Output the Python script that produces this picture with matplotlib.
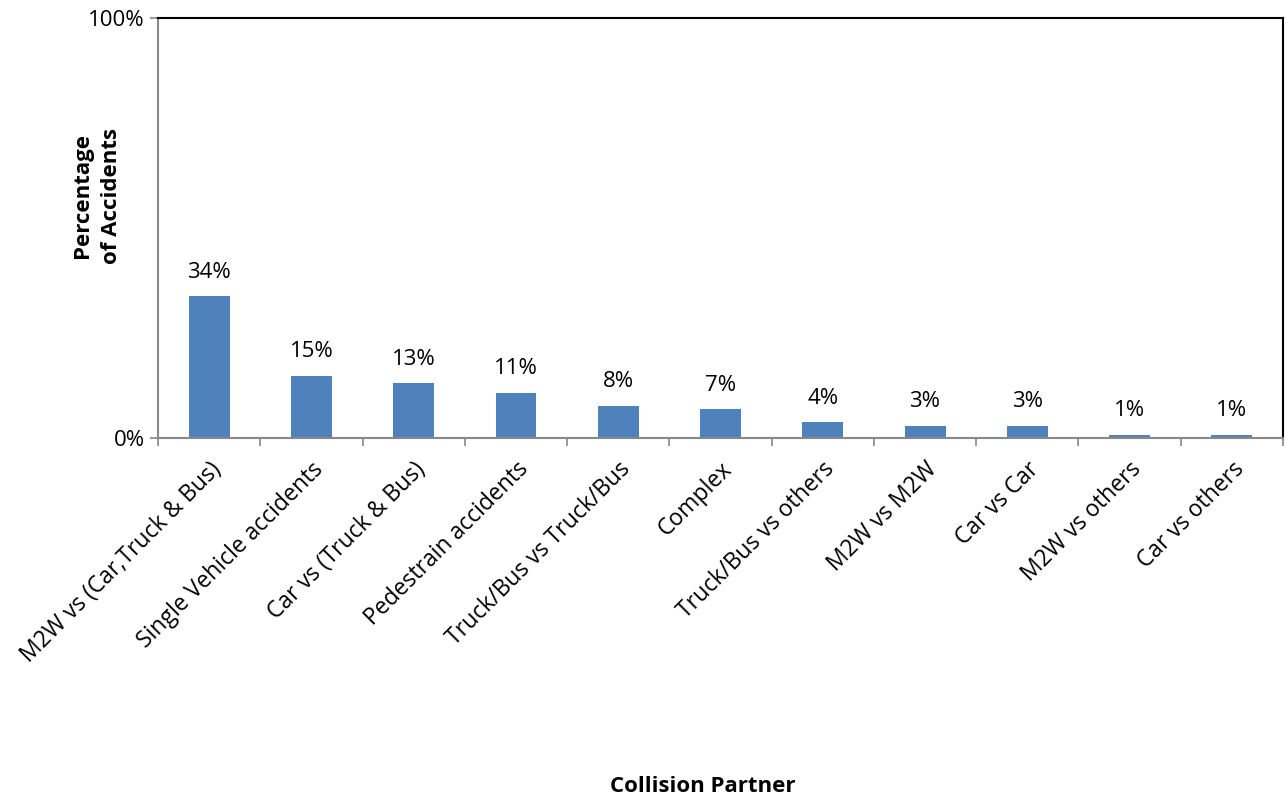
import matplotlib.pyplot as plt
import numpy as np

# Data
categories = ['M2W vs (Car,Truck & Bus)', 'Single Vehicle accidents', 'Car vs (Truck & Bus)',
              'Pedestrain accidents', 'Truck/Bus vs Truck/Bus', 'Complex', 'Truck/Bus vs others',
              'M2W vs M2W', 'Car vs Car', 'M2W vs others', 'Car vs others']
values = [33.8, 14.8, 13.0, 10.8, 7.7, 6.8, 3.8, 2.9, 2.9, 0.8, 0.8]

plt.rcParams['font.family'] = ['Open Sans', 'DejaVu Sans']

fig = plt.figure(figsize=(12.86, 8.02), dpi=100)
ax = fig.add_axes([158 / 1286, 1 - 438 / 802, 1125 / 1286, 420 / 802])

x = np.arange(len(categories))
ax.bar(x, values, width=0.4, color='#4F81BD')

for xi, v in zip(x, values):
    ax.text(xi, v + 3.2, f'{round(v):d}%', ha='center', va='bottom', fontsize=16)

ax.set_xlim(-0.5, len(categories) - 0.5)
ax.set_ylim(0, 100)
ax.set_yticks([0, 100])
ax.set_yticklabels(['0%', '100%'], fontsize=16)

ax.set_xticks(x)
ax.set_xticklabels(categories, rotation=45, ha='right', rotation_mode='anchor', fontsize=16.5)
ax.tick_params(axis='x', length=0, pad=14)
ax.set_xticks(np.arange(-0.5, len(categories)), minor=True)
ax.tick_params(axis='x', which='minor', length=6, color='#888888', width=1.2)
ax.tick_params(axis='y', length=6, color='#888888', width=1.2)

for side in ['left', 'bottom']:
    ax.spines[side].set_color('#888888')
    ax.spines[side].set_linewidth(1.5)
for side in ['top', 'right']:
    ax.spines[side].set_color('black')
    ax.spines[side].set_linewidth(1.5)

fig.text(97 / 1286, 1 - 196 / 802, 'Percentage\nof Accidents', rotation=90, ha='center',
         va='center', fontsize=16, fontweight='bold', linespacing=1.45)
fig.text(703 / 1286, 1 - 786 / 802, 'Collision Partner', ha='center', va='center',
         fontsize=16, fontweight='bold')

fig.savefig('out.png', dpi=100)
